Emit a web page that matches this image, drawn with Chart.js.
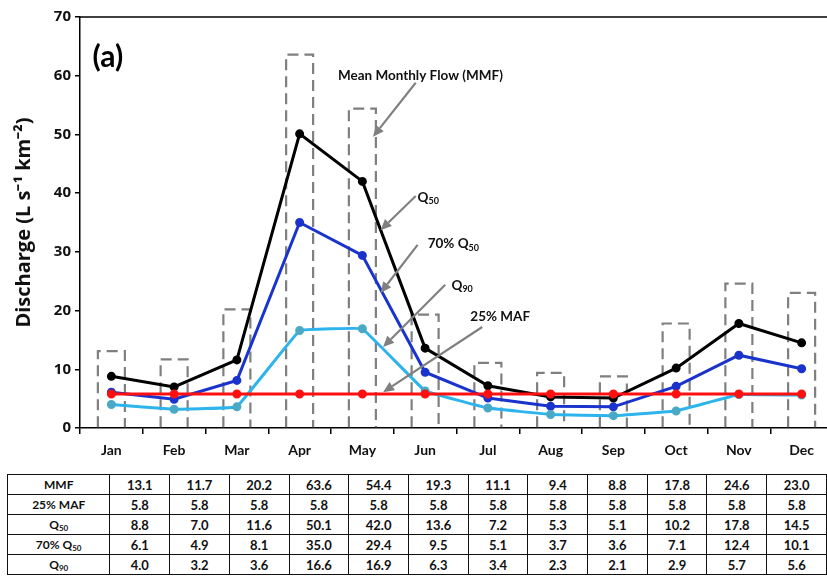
<!DOCTYPE html>
<html>
<head>
<meta charset="utf-8">
<script src="https://cdn.jsdelivr.net/npm/chart.js@4.4.1/dist/chart.umd.min.js"></script>
<style>
  html, body { margin: 0; padding: 0; background: #fff; overflow: hidden; width: 827px; height: 576px; }
  #wrap { position: absolute; left: 0; top: 0; width: 840px; height: 470px; }
  table { position: absolute; left: 7px; top: 474px; border-collapse: collapse; font-family: Lato, "Open Sans", sans-serif; font-weight: bold; font-size: 13px; color: #111; }
  td { border: 1.5px solid #111; height: 19px; padding: 0; text-align: center; width: 59px; }
  td.h { width: 102px; font-size: 12px; }
  sub { font-size: 8px; vertical-align: -2px; }
</style>
</head>
<body>
<div id="wrap"><canvas id="c" width="840" height="470"></canvas></div>
<table id="tbl"></table>
<script>
// monthly values, L s-1 km-2
var months = ["Jan", "Feb", "Mar", "Apr", "May", "Jun", "Jul", "Aug", "Sep", "Oct", "Nov", "Dec"];
var mmf    = [13.1, 11.7, 20.2, 63.6, 54.4, 19.3, 11.1, 9.4, 8.8, 17.8, 24.6, 23.0];
var maf25  = [5.8, 5.8, 5.8, 5.8, 5.8, 5.8, 5.8, 5.8, 5.8, 5.8, 5.8, 5.8];
var q50    = [8.8, 7.0, 11.6, 50.1, 42.0, 13.6, 7.2, 5.3, 5.1, 10.2, 17.8, 14.5];
var q50p70 = [6.1, 4.9, 8.1, 35.0, 29.4, 9.5, 5.1, 3.7, 3.6, 7.1, 12.4, 10.1];
var q90    = [4.0, 3.2, 3.6, 16.6, 16.9, 6.3, 3.4, 2.3, 2.1, 2.9, 5.7, 5.6];
var yTicks = [0, 10, 20, 30, 40, 50, 60, 70];

// table under the chart
var rows = [["MMF", mmf], ["25% MAF", maf25], ["Q<sub>50</sub>", q50], ["70% Q<sub>50</sub>", q50p70], ["Q<sub>90</sub>", q90]];
var html = "";
rows.forEach(function (r) {
  html += "<tr><td class='h'>" + r[0] + "</td>";
  r[1].forEach(function (v) { html += "<td>" + v.toFixed(1) + "</td>"; });
  html += "</tr>";
});
document.getElementById("tbl").innerHTML = html;

// labels with arrows, in (month index, value) coordinates
var notes = [
  { text: "Mean Monthly Flow (MMF)", x: 3.61, y: 60.0, from: [4.85, 58.8], to: [4.17, 49.6] },
  { text: "Q", sub: "50", x: 4.88, y: 39.3, from: [4.85, 39.5], to: [4.29, 33.7] },
  { text: "70% Q", sub: "50", x: 5.04, y: 31.4, from: [4.88, 31.2], to: [4.29, 23.0] },
  { text: "Q", sub: "90", x: 5.42, y: 24.3, from: [5.32, 24.4], to: [4.33, 13.8] },
  { text: "25% MAF", x: 5.72, y: 18.9, from: [5.91, 17.2], to: [4.33, 6.1] }
];

var dashedBars = {
  id: "dashedBars",
  beforeDatasetsDraw: function (chart) {
    var ctx = chart.ctx;
    var meta = chart.getDatasetMeta(0);
    ctx.save();
    ctx.strokeStyle = "#7f7f7f";
    ctx.lineWidth = 2.2;
    ctx.setLineDash([11, 6]);
    meta.data.forEach(function (b) {
      var p = b.getProps(["x", "y", "base", "width"], true);
      var l = p.x - p.width / 2, r = p.x + p.width / 2;
      ctx.beginPath();
      ctx.moveTo(l, p.base);
      ctx.lineTo(l, p.y);
      ctx.lineTo(r, p.y);
      ctx.lineTo(r, p.base);
      ctx.stroke();
    });
    ctx.restore();
  }
};

var extras = {
  id: "extras",
  afterDraw: function (chart) {
    var ctx = chart.ctx, xs = chart.scales.x, ys = chart.scales.y, a = chart.chartArea;
    function px(i) { return xs.getPixelForValue(i); }
    function py(v) { return ys.getPixelForValue(v); }
    ctx.save();
    // top frame line
    ctx.strokeStyle = "#000";
    ctx.lineWidth = 1.5;
    ctx.beginPath();
    ctx.moveTo(a.left, a.top);
    ctx.lineTo(chart.width, a.top);
    ctx.stroke();
    // panel label
    ctx.fillStyle = "#000";
    ctx.font = "bold 30px Lato, 'Open Sans', sans-serif";
    ctx.textBaseline = "middle";
    ctx.textAlign = "left";
    ctx.fillText("(a)", px(-0.3), py(63.2));
    // notes
    notes.forEach(function (n) {
      var x0 = px(n.from[0]), y0 = py(n.from[1]);
      var x1 = px(n.to[0]), y1 = py(n.to[1]);
      var ang = Math.atan2(y1 - y0, x1 - x0);
      var hl = 11, hw = 5;
      var bx = x1 - hl * Math.cos(ang), by = y1 - hl * Math.sin(ang);
      ctx.strokeStyle = "#808080";
      ctx.fillStyle = "#808080";
      ctx.lineWidth = 2.2;
      ctx.beginPath();
      ctx.moveTo(x0, y0);
      ctx.lineTo(bx, by);
      ctx.stroke();
      ctx.beginPath();
      ctx.moveTo(x1, y1);
      ctx.lineTo(bx + hw * Math.sin(ang), by - hw * Math.cos(ang));
      ctx.lineTo(bx - hw * Math.sin(ang), by + hw * Math.cos(ang));
      ctx.closePath();
      ctx.fill();
      ctx.fillStyle = "#111";
      ctx.font = "bold 13.5px Lato, 'Open Sans', sans-serif";
      ctx.textBaseline = "middle";
      var tx = px(n.x), ty = py(n.y);
      ctx.fillText(n.text, tx, ty);
      if (n.sub) {
        var w = ctx.measureText(n.text).width;
        ctx.font = "bold 9px Lato, 'Open Sans', sans-serif";
        ctx.fillText(n.sub, tx + w, ty + 4);
      }
    });
    ctx.restore();
  }
};

function lineSet(label, data, color, ptColor, tension) {
  return {
    type: "line", label: label, data: data,
    borderColor: color, backgroundColor: ptColor, pointBackgroundColor: ptColor,
    pointBorderColor: ptColor, borderWidth: 3, pointRadius: 3, tension: tension, order: 1
  };
}

new Chart(document.getElementById("c"), {
  type: "bar",
  data: {
    labels: months,
    datasets: [
      { label: "MMF", data: mmf, backgroundColor: "rgba(0,0,0,0)", borderWidth: 0,
        barThickness: 27, order: 5 },
      lineSet("25% MAF", maf25, "#ff1010", "#ff1010", 0),
      lineSet("Q90", q90, "#2db4ec", "#4aa9c4", 0.04),
      lineSet("70% Q50", q50p70, "#1a33cc", "#1a33cc", 0),
      lineSet("Q50", q50, "#000000", "#000000", 0)
    ]
  },
  options: {
    responsive: false,
    animation: false,
    layout: { padding: { top: 17, right: 3, left: 0, bottom: 0 } },
    plugins: { legend: { display: false }, tooltip: { enabled: false } },
    scales: {
      x: {
        offset: true,
        grid: { offset: true, drawOnChartArea: false, tickLength: 6, color: "#000", lineWidth: 1.5 },
        border: { color: "#000", width: 1.5 },
        ticks: { color: "#111", font: { family: "Lato, 'Open Sans', sans-serif", size: 14, weight: "bold" }, padding: 8, maxRotation: 0 },
        afterFit: function (s) { s.height = 42; }
      },
      y: {
        min: 0, max: 70,
        afterBuildTicks: function (s) { s.ticks = yTicks.map(function (v) { return { value: v }; }); },
        grid: { drawOnChartArea: false, tickLength: 5, color: "#000", lineWidth: 1.5 },
        border: { color: "#000", width: 1.5 },
        ticks: { color: "#111", font: { family: "'Open Sans', sans-serif", size: 15, weight: "bold" }, padding: 4 },
        title: { display: true, text: "Discharge (L s\u207B\u00B9 km\u207B\u00B2)", color: "#111",
          font: { family: "'Open Sans', sans-serif", size: 20, weight: "bold" }, padding: { top: 12, bottom: 4 } },
        afterFit: function (s) { s.width = 80; }
      }
    }
  },
  plugins: [dashedBars, extras]
});
</script>
</body>
</html>
